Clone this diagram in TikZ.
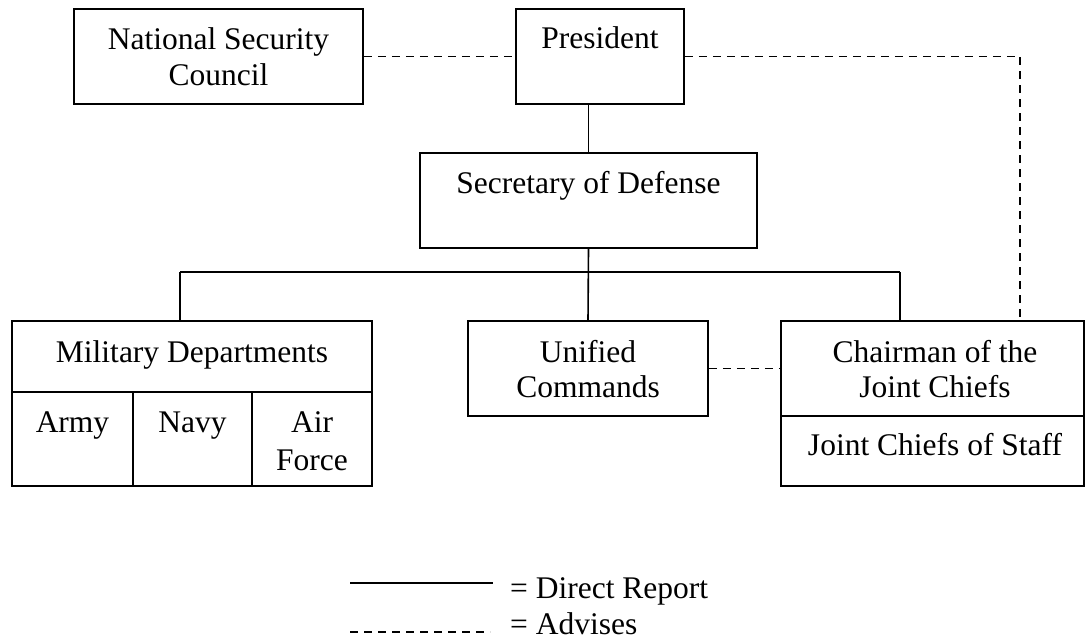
\documentclass[tikz,border=0pt]{standalone}
\usepackage{fontspec}
\setmainfont{Liberation Serif}
\begin{document}
\begin{tikzpicture}[x=1pt,y=-1pt,
  box/.style={draw,line width=1.6pt,inner sep=0pt,rectangle},
  lbl/.style={anchor=base,inner sep=0pt,font=\fontsize{31.5}{36}\selectfont},
  rep/.style={line width=1.6pt},
  adv/.style={line width=1.6pt,dash pattern=on 8pt off 6pt}]
\useasboundingbox (0,0) rectangle (1086,643);
% boxes
\node[box,minimum width=289pt,minimum height=95pt] (nsc) at (218.5,56.5) {};
\node[box,minimum width=168pt,minimum height=95pt] (pres) at (600,56.5) {};
\node[box,minimum width=337pt,minimum height=95pt] (sec) at (588.5,200.5) {};
\node[box,minimum width=360pt,minimum height=165pt] (mil) at (192,403.5) {};
\node[box,minimum width=240pt,minimum height=95pt] (uni) at (588,368.5) {};
\node[box,minimum width=303pt,minimum height=165pt] (chair) at (932.5,403.5) {};
% inner cells
\draw[rep] (12,392) -- (372,392);
\draw[rep] (133,392) -- (133,486);
\draw[rep] (252,392) -- (252,486);
\draw[rep] (781,416) -- (1084,416);
% texts
\node[lbl] (nsc1) at (218.5,49) {National Security};
\node[lbl] (nsc2) at (218.5,85) {Council};
\node[lbl] (prest) at (600,48) {President};
\node[lbl] (sect) at (588.5,193) {Secretary of Defense};
\node[lbl] (milt) at (192,362) {Military Departments};
\node[lbl] (army) at (72.5,432) {Army};
\node[lbl] (navy) at (192.5,432) {Navy};
\node[lbl] (air) at (312,432) {Air};
\node[lbl] (force) at (312,470) {Force};
\node[lbl] (uni1) at (588,362) {Unified};
\node[lbl] (uni2) at (588,397) {Commands};
\node[lbl] (ch1) at (935,362) {Chairman of the};
\node[lbl] (ch2) at (935,397) {Joint Chiefs};
\node[lbl] (jcs) at (935,455) {Joint Chiefs of Staff};
% direct report connectors
\coordinate (busL) at (180,272);
\coordinate (busR) at (900,272);
\draw[rep] (sec.north |- pres.south) -- (sec.north);
\draw[rep] (sec.south) -- (uni.north);
\draw[rep] (busL) -- (busR);
\draw[rep] (busL) -- (busL |- mil.north);
\draw[rep] (busR) -- (busR |- chair.north);
% advises connectors
\coordinate (corner) at (1020,56.5);
\draw[adv] (nsc.east) -- (pres.west);
\draw[adv] (pres.east) -- (corner) -- (corner |- chair.north);
\draw[adv] (uni.east) -- (uni.east -| chair.west);
% legend
\coordinate (la) at (350,583);
\coordinate (lb) at (493,583);
\coordinate (lc) at (350,632);
\coordinate (ld) at (490,632);
\draw[rep] (la) -- (lb);
\draw[adv] (lc) -- (ld);
\node[lbl,anchor=base west] (legr) at (510,598) {= Direct Report};
\node[lbl,anchor=base west] (lega) at (510,634) {= Advises};
\end{tikzpicture}
\end{document}
